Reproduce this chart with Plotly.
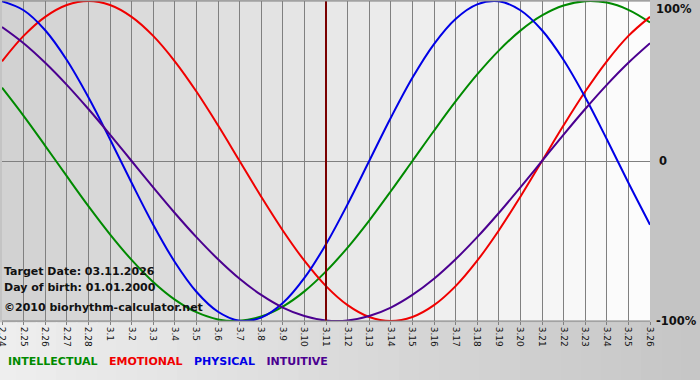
import plotly.graph_objects as go

dates = ["2.24", "2.25", "2.26", "2.27", "2.28", "3.1", "3.2", "3.3", "3.4", "3.5",
         "3.6", "3.7", "3.8", "3.9", "3.10", "3.11", "3.12", "3.13", "3.14", "3.15",
         "3.16", "3.17", "3.18", "3.19", "3.20", "3.21", "3.22", "3.23", "3.24", "3.25", "3.26"]

intellectual = [0.458, 0.282, 0.095, -0.095, -0.282, -0.458, -0.618, -0.756, -0.866, -0.945,
                -0.990, -0.999, -0.972, -0.910, -0.815, -0.690, -0.541, -0.372, -0.189, 0.0,
                0.189, 0.372, 0.541, 0.690, 0.815, 0.910, 0.972, 0.999, 0.990, 0.945, 0.866]
emotional = [0.623, 0.782, 0.901, 0.975, 1.0, 0.975, 0.901, 0.782, 0.623, 0.434,
             0.223, 0.0, -0.223, -0.434, -0.623, -0.782, -0.901, -0.975, -1.0, -0.975,
             -0.901, -0.782, -0.623, -0.434, -0.223, 0.0, 0.223, 0.434, 0.623, 0.782, 0.901]
physical = [0.998, 0.942, 0.817, 0.631, 0.398, 0.136, -0.136, -0.398, -0.631, -0.817,
            -0.942, -0.998, -0.979, -0.888, -0.731, -0.520, -0.270, 0.0, 0.270, 0.520,
            0.731, 0.888, 0.979, 0.998, 0.942, 0.817, 0.631, 0.398, 0.136, -0.136, -0.398]
intuitive = [0.837, 0.736, 0.614, 0.476, 0.325, 0.165, 0.0, -0.165, -0.325, -0.476,
             -0.614, -0.736, -0.837, -0.916, -0.969, -0.997, -0.997, -0.969, -0.916, -0.837,
             -0.736, -0.614, -0.476, -0.325, -0.165, 0.0, 0.165, 0.325, 0.476, 0.614, 0.736]

target_label = "3.11"
y_labels = ["100%", "0", "-100%"]
y_label_vals = [1, 0, -1]

series = [
    ("INTELLECTUAL", intellectual, "#008a00"),
    ("EMOTIONAL", emotional, "#f00000"),
    ("PHYSICAL", physical, "#0000e6"),
    ("INTUITIVE", intuitive, "#4b0090"),
]

xs = list(range(len(dates)))
fig = go.Figure()

for name, vals, col in series:
    fig.add_trace(go.Scatter(x=xs, y=vals, mode="lines", name=name,
                             line=dict(color=col, width=2, shape="spline", smoothing=1.0),
                             hoverinfo="skip"))

shapes = []
n = len(dates) - 1
# plot background bands (gradient gray -> white)
for i in range(n):
    v = int(round(210 + (252 - 210) * i / (n - 1)))
    c = f"rgb({v},{v},{v})"
    shapes.append(dict(type="rect", xref="x", yref="paper", x0=i, x1=i + 1, y0=0, y1=1,
                       fillcolor=c, line=dict(width=0), layer="below"))
# bottom band gradient
steps = 35
for i in range(steps):
    v = int(round(238 + (198 - 238) * i / (steps - 1)))
    c = f"rgb({v},{v},{v})"
    x0 = -0.01 + i * (1.09 / steps)
    shapes.append(dict(type="rect", xref="paper", yref="paper", x0=x0, x1=x0 + 1.09 / steps + 0.002,
                       y0=-0.19, y1=-0.004, fillcolor=c, line=dict(width=0), layer="below"))
# target date line
ti = dates.index(target_label)
shapes.append(dict(type="line", xref="x", yref="paper", x0=ti, x1=ti, y0=0, y1=1,
                   line=dict(color="#7a0000", width=2), layer="above"))
# frame lines
shapes.append(dict(type="line", xref="paper", yref="paper", x0=0, x1=1, y0=1, y1=1,
                   line=dict(color="#808080", width=1)))
shapes.append(dict(type="line", xref="paper", yref="paper", x0=0, x1=1, y0=0, y1=0,
                   line=dict(color="#808080", width=1)))

annotations = []
for lab, v in zip(y_labels, y_label_vals):
    annotations.append(dict(x=1, xref="paper", y=v, yref="y", text=f"<b>{lab}</b>",
                            showarrow=False, xanchor="left",
                            yanchor="top" if v == 1 else "middle",
                            xshift=4 if lab != "0" else 7, yshift=1 if v == 1 else 0,
                            font=dict(family="DejaVu Sans", size=11.5, color="#111")))

info = [("Target Date: 03.11.2026", 271), ("Day of birth: 01.01.2000", 287),
        ("©2010 biorhythm-calculator.net", 307)]
for txt, py in info:
    annotations.append(dict(x=0, xref="paper", y=(321 - py) / 320, yref="paper",
                            text=f"<b>{txt}</b>", showarrow=False, xanchor="left",
                            yanchor="middle", xshift=0,
                            font=dict(family="DejaVu Sans", size=11, color="#111")))

legend_html = "   ".join(f"<span style='color:{col}'>{name}</span>" for name, _, col in series)
annotations.append(dict(x=0, xref="paper", y=(321 - 361) / 320, yref="paper",
                        text=f"<b>{legend_html}</b>", showarrow=False, xanchor="left",
                        yanchor="middle", xshift=4,
                        font=dict(family="DejaVu Sans", size=11)))

fig.update_layout(
    width=700, height=380,
    margin=dict(l=2, r=50, t=1, b=59, autoexpand=False),
    paper_bgcolor="#c4c4c4",
    plot_bgcolor="#e8e8e8",
    showlegend=False,
    shapes=shapes,
    annotations=annotations,
    xaxis=dict(range=[-0.0001, n], tickvals=xs, ticktext=dates, tickangle=90,
               showgrid=True, gridcolor="#808080", gridwidth=1, zeroline=False,
               ticks="outside", ticklen=3, tickcolor="#808080", automargin=False,
               ticklabeloverflow="allow",
               tickfont=dict(family="DejaVu Sans", size=9, color="#111"),
               fixedrange=True),
    yaxis=dict(range=[-1, 1], showgrid=False, showticklabels=False, zeroline=True,
               zerolinecolor="#808080", zerolinewidth=1, fixedrange=True, automargin=False),
)

fig.write_html("out.html", config={"displayModeBar": False},
               post_script="document.body.style.margin='0';document.body.style.overflow='hidden';")
